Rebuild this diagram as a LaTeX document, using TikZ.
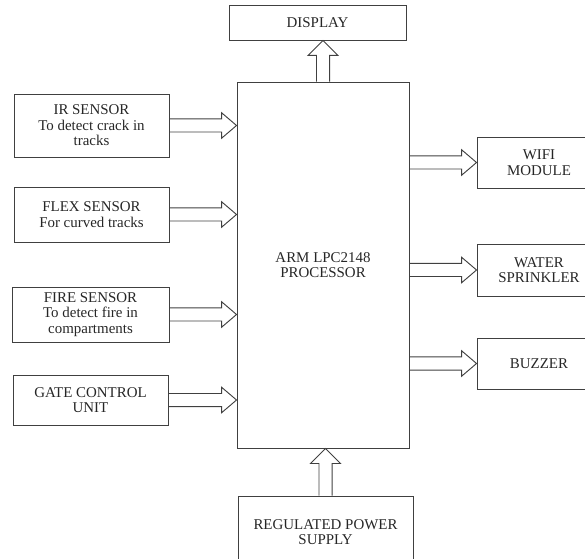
\documentclass[tikz,border=0pt]{standalone}
\usepackage{fontspec}
\setmainfont{Liberation Serif}
\usetikzlibrary{calc,positioning}
\tikzset{
  unit box/.style={draw=black!75,line width=0.7pt,inner sep=0pt,align=center,
    font=\fontsize{11.2}{11.6}\selectfont,text=black!85},
  side box/.style={unit box,minimum width=116.25pt},
  out box/.style={unit box,minimum width=93pt},
  block arrow/.style={draw=black!75,line width=0.7pt,line join=miter},
}
% hollow block arrows, drawn between node anchors
\newcommand{\harrowto}[2]{%
  \draw[block arrow] let \p1=#1, \p2=#2 in
    (\x1,\y1+4.9pt) -- (\x2-11.25pt,\y1+4.9pt) -- (\x2-11.25pt,\y1+9.6pt)
    -- (\x2,\y1) -- (\x2-11.25pt,\y1-9.6pt) -- (\x2-11.25pt,\y1-4.9pt)
    -- (\x1,\y1-4.9pt);}
\newcommand{\varrowto}[2]{%
  \draw[block arrow] let \p1=#1, \p2=#2 in
    (\x1-4.9pt,\y1) -- (\x1-4.9pt,\y2-11.25pt) -- (\x1-11.25pt,\y2-11.25pt)
    -- (\x1,\y2) -- (\x1+11.25pt,\y2-11.25pt) -- (\x1+4.9pt,\y2-11.25pt)
    -- (\x1+4.9pt,\y1);}

\begin{document}
\begin{tikzpicture}[x=0.75pt,y=-0.75pt]
  \clip (0,0) rectangle (585,559);

  % processor in the middle
  \node[unit box,minimum width=129pt,minimum height=274.5pt] (proc) at (323,265)
    {ARM LPC2148\\PROCESSOR};
  \node[unit box,minimum width=132.75pt,minimum height=26.25pt] (disp) at (317.5,22.5)
    {DISPLAY};
  \node[unit box,minimum width=131.25pt,minimum height=54pt] (power) at (325.5,532)
    {REGULATED POWER\\SUPPLY};

  % inputs
  \node[side box,minimum height=47.25pt] (ir) at (91.5,125.5)
    {IR SENSOR\\To detect crack in\\tracks};
  \node[side box,minimum height=41.25pt] (flex) at (91.5,214.5)
    {FLEX SENSOR\\For curved tracks};
  \node[side box,minimum width=117.75pt,minimum height=41.25pt] (fire) at (90.5,314.5)
    {FIRE SENSOR\\To detect fire in\\compartments};
  \node[side box,minimum height=37.5pt] (gate) at (90.5,400)
    {GATE CONTROL\\UNIT};

  % outputs
  \node[out box,minimum height=38.25pt] (wifi) at (539,162.5) {WIFI\\MODULE};
  \node[out box,minimum height=39pt] (water) at (539,270) {WATER\\SPRINKLER};
  \node[out box,minimum height=38.25pt] (buzzer) at (539,363.5) {BUZZER};

  \foreach \src in {ir,flex,fire,gate}
    {\harrowto{(\src.east)}{(\src.east -| proc.west)}}
  \foreach \dst in {wifi,water,buzzer}
    {\harrowto{(\dst.west -| proc.east)}{(\dst.west)}}
  \varrowto{(proc.north)}{(proc.north |- disp.south)}
  \varrowto{(power.north)}{(power.north |- proc.south)}
\end{tikzpicture}
\end{document}
